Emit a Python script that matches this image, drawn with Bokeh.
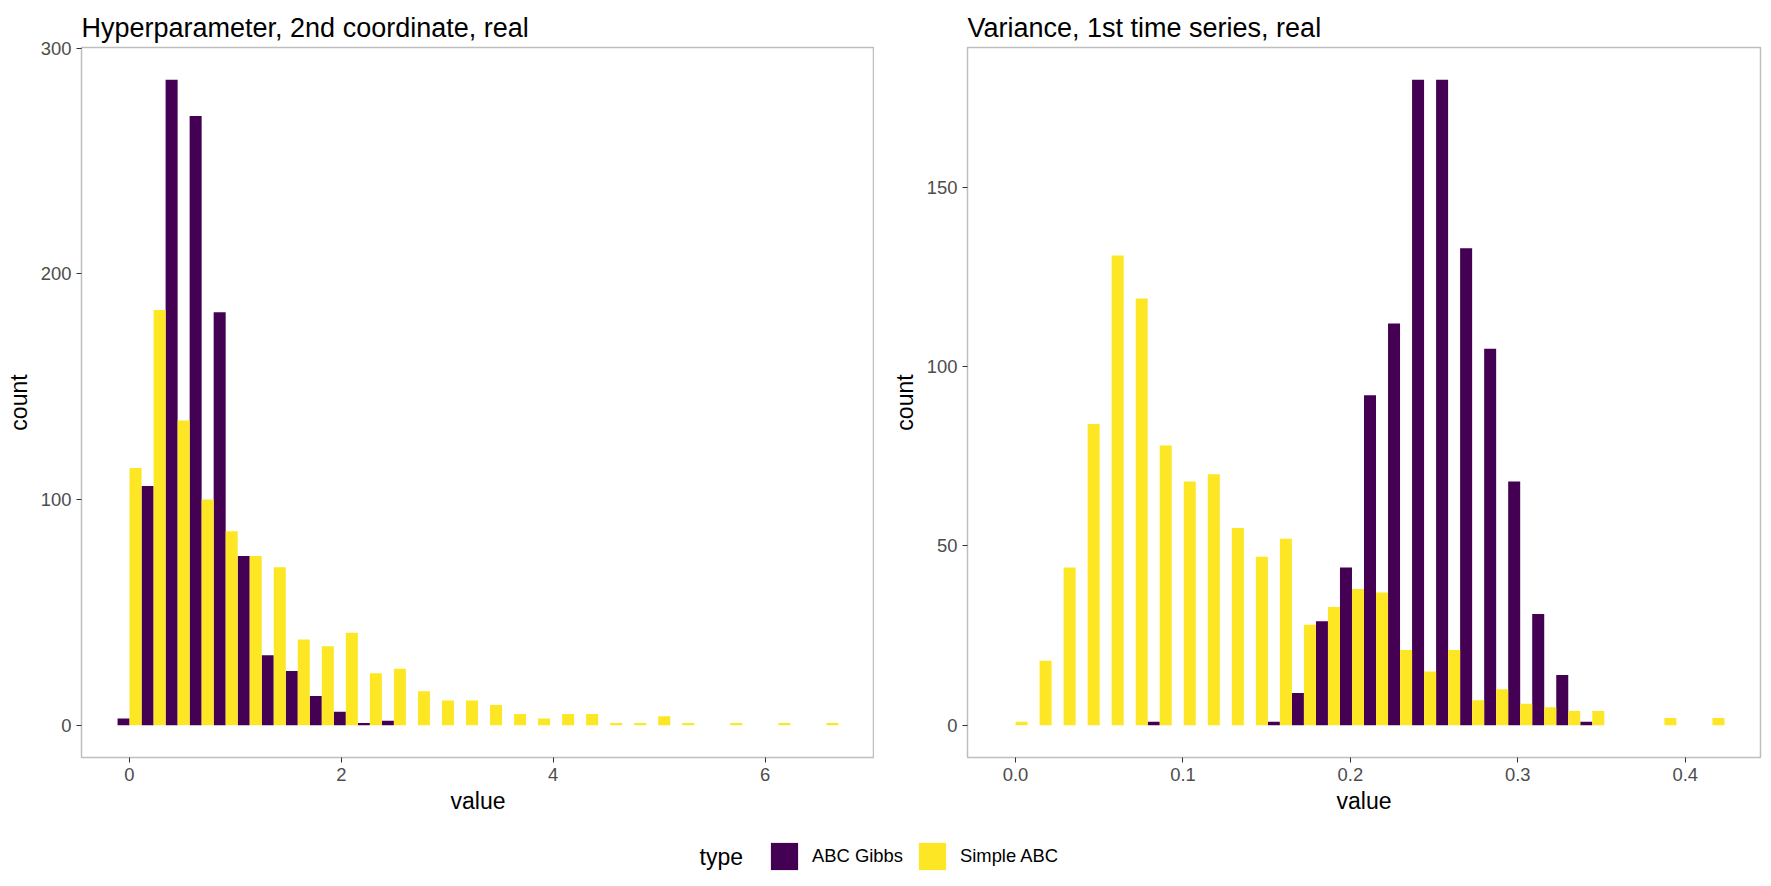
from bokeh.plotting import figure
from bokeh.models import Range1d, FixedTicker, NumeralTickFormatter, Label, ColumnDataSource
from bokeh.layouts import column, row
from bokeh.embed import file_html
from bokeh.resources import INLINE
import numpy as np

FONT = "Liberation Sans"
GIBBS_COLOR = "#440154"
SIMPLE_COLOR = "#FDE725"

# Hyperparameter, 2nd coordinate: 30 bins, counts per sampler
hyper_first_centre = 0.002
hyper_bin_width = 0.2268
hyper_gibbs = [3, 106, 286, 270, 183, 75, 31, 24, 13, 6, 1, 2, 0, 0, 0,
               0, 0, 0, 0, 0, 0, 0, 0, 0, 0, 0, 0, 0, 0, 0]
hyper_simple = [114, 184, 135, 100, 86, 75, 70, 38, 35, 41, 23, 25, 15, 11, 11,
                9, 5, 3, 5, 5, 1, 1, 4, 1, 0, 1, 0, 1, 0, 1]
hyper_xticks = [0, 2, 4, 6]
hyper_yticks = [0, 100, 200, 300]

# Variance, 1st time series: 30 bins, counts per sampler
var_first_centre = 0.0
var_bin_width = 0.014354
var_gibbs = [0, 0, 0, 0, 0, 0, 1, 0, 0, 0, 0, 1, 9, 29, 44,
             92, 112, 180, 180, 133, 105, 68, 31, 14, 1, 0, 0, 0, 0, 0]
var_simple = [1, 18, 44, 84, 131, 119, 78, 68, 70, 55, 47, 52, 28, 33, 38,
              37, 21, 15, 21, 7, 10, 6, 5, 4, 4, 0, 0, 2, 0, 2]
var_xticks = [0.0, 0.1, 0.2, 0.3, 0.4]
var_yticks = [0, 50, 100, 150]

type_labels = ["ABC Gibbs", "Simple ABC"]
type_colors = [GIBBS_COLOR, SIMPLE_COLOR]

FRAME_W, FRAME_H = 793, 710
TOP, BOTTOM = 47, 60


def histogram_panel(title, first, width, gibbs, simple, xticks, yticks,
                    border_left, border_right, xfmt=None):
    n = len(gibbs)
    centres = first + width * np.arange(n)
    lo = centres[0] - width / 2
    hi = centres[-1] + width / 2
    pad = 0.05 * (hi - lo)
    ymax = max(max(gibbs), max(simple))

    p = figure(frame_width=FRAME_W, frame_height=FRAME_H,
               min_border_left=border_left, min_border_right=border_right,
               min_border_top=TOP, min_border_bottom=BOTTOM,
               x_range=Range1d(lo - pad, hi + pad),
               y_range=Range1d(-0.05 * ymax, 1.05 * ymax),
               output_backend="svg", toolbar_location=None, title=title)

    src = ColumnDataSource(dict(
        x_gibbs=centres - width / 4,
        x_simple=centres + width / 4,
        gibbs=gibbs, simple=simple))
    p.vbar(x="x_gibbs", top="gibbs", bottom=0, width=width / 2, source=src,
           fill_color=GIBBS_COLOR, line_color=None)
    p.vbar(x="x_simple", top="simple", bottom=0, width=width / 2, source=src,
           fill_color=SIMPLE_COLOR, line_color=None)

    p.title.text_font = FONT
    p.title.text_font_size = "27px"
    p.title.text_font_style = "normal"
    p.title.text_color = "black"
    p.title.align = "left"
    p.title.offset = 0

    p.grid.visible = False
    p.outline_line_color = "#BEBEBE"
    p.outline_line_width = 1.5
    p.background_fill_color = "white"
    p.border_fill_color = "white"

    p.xaxis.ticker = FixedTicker(ticks=xticks)
    p.yaxis.ticker = FixedTicker(ticks=yticks)
    if xfmt:
        p.xaxis.formatter = NumeralTickFormatter(format=xfmt)
    p.xaxis.axis_label = "value"
    p.yaxis.axis_label = "count"
    for ax in (p.xaxis, p.yaxis):
        ax.axis_line_color = None
        ax.major_tick_line_color = "#333333"
        ax.major_tick_out = 5
        ax.major_tick_in = 0
        ax.minor_tick_line_color = None
        ax.major_label_text_font = FONT
        ax.major_label_text_font_size = "18.4px"
        ax.major_label_text_color = "#4D4D4D"
        ax.major_label_standoff = 5
        ax.axis_label_text_font = FONT
        ax.axis_label_text_font_size = "23px"
        ax.axis_label_text_font_style = "normal"
        ax.axis_label_text_color = "black"
    p.xaxis.axis_label_standoff = 4
    p.yaxis.axis_label_standoff = 6
    return p


p1 = histogram_panel("Hyperparameter, 2nd coordinate, real",
                     hyper_first_centre, hyper_bin_width, hyper_gibbs, hyper_simple,
                     hyper_xticks, hyper_yticks, 81, 0)
p2 = histogram_panel("Variance, 1st time series, real",
                     var_first_centre, var_bin_width, var_gibbs, var_simple,
                     var_xticks, var_yticks, 93, 11, xfmt="0.0")

# Shared legend strip beneath both panels
PAGE_W = 1771
LEG_H = 886 - (TOP + FRAME_H + BOTTOM)
lg = figure(width=PAGE_W, height=LEG_H, min_border=0,
            x_range=Range1d(0, PAGE_W), y_range=Range1d(0, LEG_H),
            output_backend="svg", toolbar_location=None)
lg.axis.visible = False
lg.grid.visible = False
lg.outline_line_color = None
lg.border_fill_color = "white"

# zero-size swatch carriers: one row per fill type, only the legend shows them
key_src = ColumnDataSource(dict(type=type_labels, color=type_colors))
lg.vbar(x=0, top=0, bottom=0, width=0, fill_color="color", line_color=None,
        source=key_src, legend_field="type")

key_mid = LEG_H - 39
legend = lg.legend[0]
legend.orientation = "horizontal"
legend.location = (767, key_mid - 17)
legend.glyph_width = 34
legend.glyph_height = 34
legend.label_height = 34
legend.label_standoff = 11
legend.spacing = 12
legend.padding = 0
legend.margin = 0
legend.border_line_color = None
legend.background_fill_alpha = 0
legend.label_text_font = FONT
legend.label_text_font_size = "18.4px"
legend.label_text_color = "black"

lg.add_layout(Label(x=699, y=key_mid, text="type", text_baseline="middle",
                    text_font=FONT, text_font_size="23px", text_color="black"))

layout = column(row(p1, p2), lg)
open("out.html", "w").write(file_html(layout, INLINE))
